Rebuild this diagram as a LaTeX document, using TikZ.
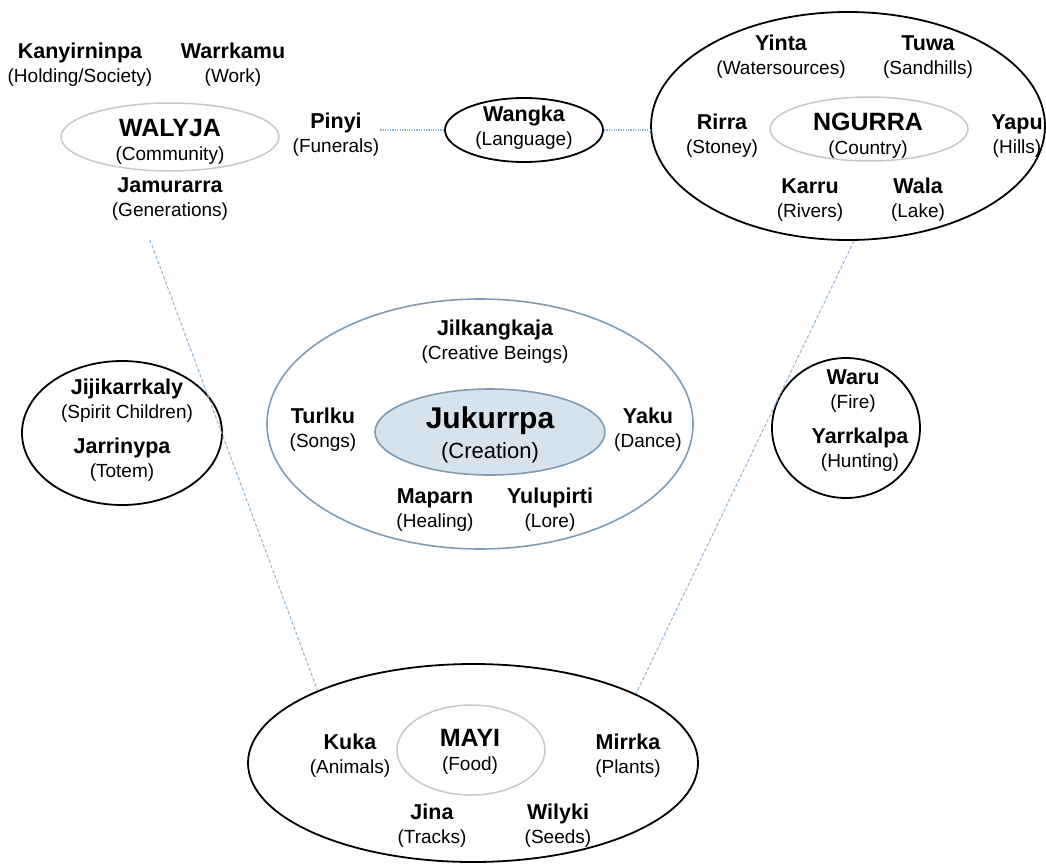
\documentclass[tikz,border=0pt]{standalone}
\usepackage{fontspec}
\setmainfont{Liberation Sans}
\usetikzlibrary{shapes.geometric}
\definecolor{ringgray}{HTML}{C8C8C8}
\definecolor{ringsteel}{HTML}{7F9BB3}
\definecolor{corefill}{HTML}{D6E3EC}
\definecolor{linkblue}{HTML}{93B4D2}
\newcommand{\termname}[1]{{\fontsize{21.5}{24}\selectfont\bfseries #1}}
\newcommand{\headname}[1]{{\fontsize{25}{24}\selectfont\bfseries #1}}
\tikzset{
  ring/.style={ellipse,draw=black,line width=1.8pt,inner sep=0pt},
  inner ring/.style={ellipse,draw=ringgray,line width=1.5pt,inner sep=0pt},
  steel ring/.style={ellipse,draw=ringsteel,line width=1.6pt,inner sep=0pt},
  core ring/.style={steel ring,fill=corefill},
  term/.style={align=center,font=\fontsize{19}{24}\selectfont,inner sep=1pt},
  link/.style={draw=linkblue,line width=1pt,dash pattern=on 3.5pt off 2pt},
  dot link/.style={draw=linkblue,line width=1.4pt,dash pattern=on 1.2pt off 1.2pt}
}
\begin{document}
\begin{tikzpicture}[x=1pt,y=-1pt]
  \useasboundingbox (0,0) rectangle (1046,865);
  \node[inner ring,minimum width=218,minimum height=68] (walyja) at (170,137) {};
  \node[ring,minimum width=158,minimum height=64] (wangka) at (524,130) {};
  \node[ring,minimum width=394,minimum height=228] (ngurra out) at (848,126) {};
  \node[inner ring,minimum width=198,minimum height=64] (ngurra) at (869,129) {};
  \node[steel ring,minimum width=426,minimum height=250] (jilk ring) at (480,424) {};
  \node[core ring,minimum width=230,minimum height=86] (jukurrpa) at (490,432) {};
  \node[ring,minimum width=200,minimum height=144] (spirit) at (122,433) {};
  \node[ring,minimum width=148,minimum height=140] (fire) at (846,428) {};
  \node[ring,minimum width=450,minimum height=198] (mayi out) at (473,763) {};
  \node[inner ring,minimum width=148,minimum height=90] (mayi) at (471,750) {};

  \node[term] (kanyirninpa) at (80,65) {\termname{Kanyirninpa}\\(Holding/Society)};
  \node[term] (warrkamu) at (233,65) {\termname{Warrkamu}\\(Work)};
  \node[term] (walyja text) at (170,142) {\headname{WALYJA}\\(Community)};
  \node[term] (jamurarra) at (170,199) {\termname{Jamurarra}\\(Generations)};
  \node[term] (pinyi) at (336,135) {\termname{Pinyi}\\(Funerals)};
  \node[term] (wangka text) at (524,128) {\termname{Wangka}\\(Language)};

  \node[term] (yinta) at (781,57) {\termname{Yinta}\\(Watersources)};
  \node[term] (tuwa) at (928,57) {\termname{Tuwa}\\(Sandhills)};
  \node[term] (rirra) at (722,136) {\termname{Rirra}\\(Stoney)};
  \node[term] (ngurra text) at (868,136) {\headname{NGURRA}\\(Country)};
  \node[term] (yapu) at (1017,136) {\termname{Yapu}\\(Hills)};
  \node[term] (karru) at (810,200) {\termname{Karru}\\(Rivers)};
  \node[term] (wala) at (918,200) {\termname{Wala}\\(Lake)};

  \node[term] (jilkangkaja) at (495,342) {\termname{Jilkangkaja}\\(Creative Beings)};
  \node[term] (turlku) at (323,430) {\termname{Turlku}\\(Songs)};
  \node[term,font=\fontsize{22}{30}\selectfont] (jukurrpa text) at (490,435)
    {{\fontsize{30}{30}\selectfont\bfseries Jukurrpa}\\(Creation)};
  \node[term] (yaku) at (648,430) {\termname{Yaku}\\(Dance)};
  \node[term] (maparn) at (435,510) {\termname{Maparn}\\(Healing)};
  \node[term] (yulupirti) at (550,510) {\termname{Yulupirti}\\(Lore)};

  \node[term] (jijikarrkaly) at (127,401) {\termname{Jijikarrkaly}\\(Spirit Children)};
  \node[term] (jarrinypa) at (122,460) {\termname{Jarrinypa}\\(Totem)};
  \node[term] (waru) at (853,391) {\termname{Waru}\\(Fire)};
  \node[term] (yarrkalpa) at (860,450) {\termname{Yarrkalpa}\\(Hunting)};

  \node[term] (kuka) at (350,756) {\termname{Kuka}\\(Animals)};
  \node[term] (mayi text) at (470,752) {\headname{MAYI}\\(Food)};
  \node[term] (mirrka) at (628,756) {\termname{Mirrka}\\(Plants)};
  \node[term] (jina) at (432,826) {\termname{Jina}\\(Tracks)};
  \node[term] (wilyki) at (558,826) {\termname{Wilyki}\\(Seeds)};

  \coordinate (walyja foot) at (150,240);
  \draw[link] (walyja foot) -- (mayi out.155.5);
  \draw[link] (ngurra out.273.6) -- (mayi out.23.2);
  \draw[dot link] (wangka.west -| pinyi.east) -- (wangka.west);
  \draw[dot link] (wangka.east) -- (wangka.east -| ngurra out.west);
\end{tikzpicture}
\end{document}
